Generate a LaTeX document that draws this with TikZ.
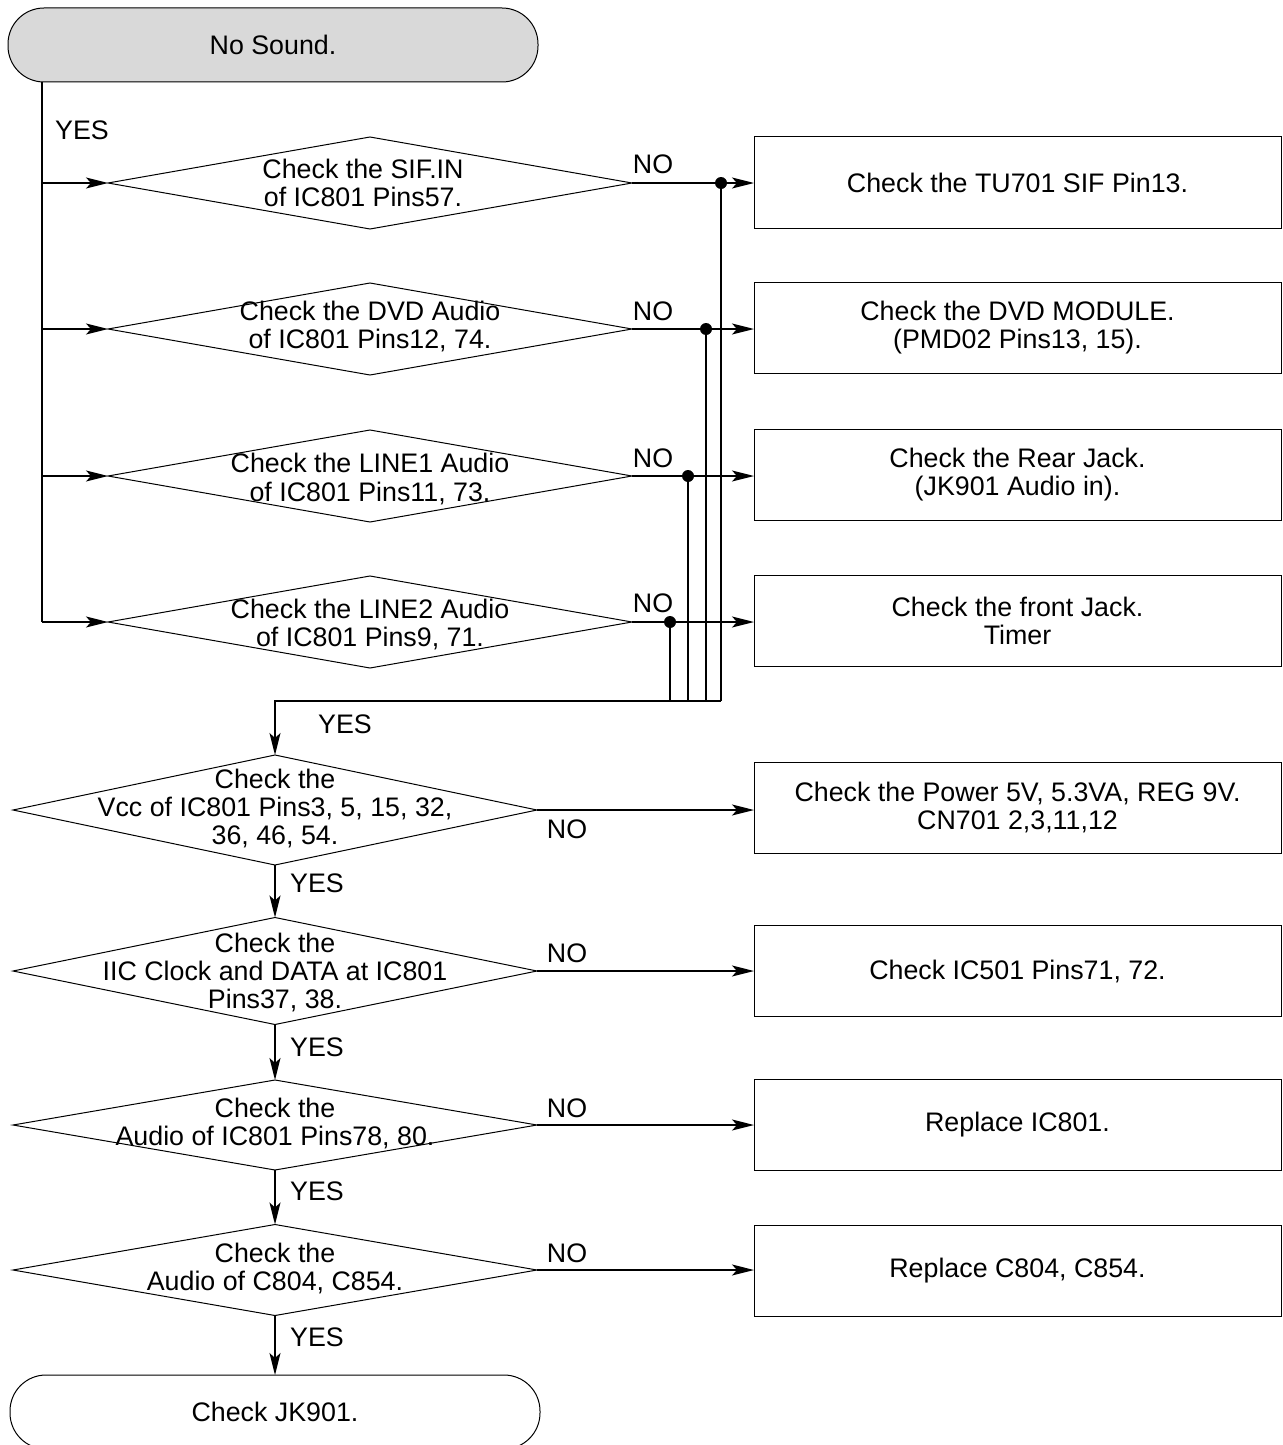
\documentclass[tikz,border=0pt]{standalone}
\usepackage{fontspec}
\setmainfont{Liberation Sans}
\usetikzlibrary{shapes.geometric,arrows.meta}
\begin{document}
\begin{tikzpicture}[x=0.5pt,y=-0.5pt,
  font=\fontsize{13.4}{14}\selectfont,
  every node/.style={inner sep=0pt, outer sep=0pt},
  term/.style={draw,line width=0.5pt,rectangle,rounded corners=18pt,minimum width=265pt,minimum height=37pt},
  dia/.style={draw,line width=0.5pt,diamond,minimum width=262pt,minimum height=#1},
  rbox/.style={draw,line width=0.5pt,rectangle,minimum width=263.5pt,minimum height=45.5pt},
  txt/.style={align=center},
  line/.style={line width=0.8pt},
  arr/.style={line width=0.8pt,-{Stealth[length=11pt,width=5.5pt,inset=2.5pt]}},
  jdot/.style={circle,fill,minimum size=6pt},
]
\useasboundingbox (0,0) rectangle (1282,1445);
\clip (0,0) rectangle (1282,1445);

% terminals
\node[term,fill=gray!30] (start) at (273,45) {No Sound.};
\node[term] (stop) at (275,1412) {Check JK901.};

% upper diamonds
\node[dia=46pt] (d1) at (370,183) {};
\node[dia=46pt] (d2) at (370,329) {};
\node[dia=46pt] (d3) at (370,476) {};
\node[dia=46pt] (d4) at (370,622) {};
\node[txt] (t1) at (363,183) {Check the SIF.IN\\of IC801 Pins57.};
\node[txt] (t2) at (370,327) {Check the DVD Audio\\of IC801 Pins12, 74.};
\node[txt] (t3) at (370,479) {Check the LINE1 Audio\\of IC801 Pins11, 73.};
\node[txt] (t4) at (370,624) {Check the LINE2 Audio\\of IC801 Pins9, 71.};

% lower diamonds
\node[dia=55pt] (d5) at (275,810) {};
\node[dia=53.5pt] (d6) at (275,971) {};
\node[dia=45pt] (d7) at (275,1125) {};
\node[dia=45.5pt] (d8) at (275,1270) {};
\node[txt] (t5) at (275,808) {Check the\\Vcc of IC801 Pins3, 5, 15, 32,\\36, 46, 54.};
\node[txt] (t6) at (275,972) {Check the\\IIC Clock and DATA at IC801\\Pins37, 38.};
\node[txt] (t7) at (275,1123) {Check the\\Audio of IC801 Pins78, 80.};
\node[txt] (t8) at (275,1268) {Check the\\Audio of C804, C854.};

% right boxes
\node[rbox] (b1) at (1017.5,182.5) {Check the TU701 SIF Pin13.};
\node[rbox,txt] (b2) at (1017.5,328) {Check the DVD MODULE.\\(PMD02 Pins13, 15).};
\node[rbox,txt] (b3) at (1017.5,475) {Check the Rear Jack.\\(JK901 Audio in).};
\node[rbox,txt] (b4) at (1017.5,621) {Check the front Jack.\\Timer};
\node[rbox,txt] (b5) at (1017.5,807.5) {Check the Power 5V, 5.3VA, REG 9V.\\CN701 2,3,11,12};
\node[rbox] (b6) at (1017.5,971) {Check IC501 Pins71, 72.};
\node[rbox] (b7) at (1017.5,1125) {Replace IC801.};
\node[rbox] (b8) at (1017.5,1271) {Replace C804, C854.};

% helper coordinates
\coordinate (spine) at (42,0);
\coordinate (x1) at (721,0);
\coordinate (x2) at (706,0);
\coordinate (x3) at (688,0);
\coordinate (x4) at (670,0);
\coordinate (bus) at (0,701);

% left spine
\draw[line] (start.south -| spine) -- (spine |- d4.west);
\draw[arr] (spine |- d1.west) -- (d1.west);
\draw[arr] (spine |- d2.west) -- (d2.west);
\draw[arr] (spine |- d3.west) -- (d3.west);
\draw[arr] (spine |- d4.west) -- (d4.west);

% NO branches upper
\draw[arr] (d1.east) -- (d1.east -| b1.west);
\draw[arr] (d2.east) -- (d2.east -| b2.west);
\draw[arr] (d3.east) -- (d3.east -| b3.west);
\draw[arr] (d4.east) -- (d4.east -| b4.west);

\node[jdot] (j1) at (x1 |- d1.east) {};
\node[jdot] (j2) at (x2 |- d2.east) {};
\node[jdot] (j3) at (x3 |- d3.east) {};
\node[jdot] (j4) at (x4 |- d4.east) {};
\draw[line] (j1.center) -- (j1 |- bus);
\draw[line] (j2.center) -- (j2 |- bus);
\draw[line] (j3.center) -- (j3 |- bus);
\draw[line] (j4.center) -- (j4 |- bus);
\draw[arr] (j1 |- bus) -| (d5.north);

% YES chain lower
\draw[arr] (d5.south) -- (d6.north);
\draw[arr] (d6.south) -- (d7.north);
\draw[arr] (d7.south) -- (d8.north);
\draw[arr] (d8.south) -- (stop.north);

% NO branches lower
\draw[arr] (d5.east) -- (d5.east -| b5.west);
\draw[arr] (d6.east) -- (d6.east -| b6.west);
\draw[arr] (d7.east) -- (d7.east -| b7.west);
\draw[arr] (d8.east) -- (d8.east -| b8.west);

% labels
\node (y0) at (82,130) {YES};
\node (n1) at (653,164) {NO};
\node (n2) at (653,311) {NO};
\node (n3) at (653,458) {NO};
\node (n4) at (653,603) {NO};
\node (y1) at (345,724) {YES};
\node (n5) at (567,829) {NO};
\node (n6) at (567,953) {NO};
\node (n7) at (567,1108) {NO};
\node (n8) at (567,1253) {NO};
\node (y5) at (317,883) {YES};
\node (y6) at (317,1047) {YES};
\node (y7) at (317,1191) {YES};
\node (y8) at (317,1337) {YES};
\end{tikzpicture}
\end{document}
